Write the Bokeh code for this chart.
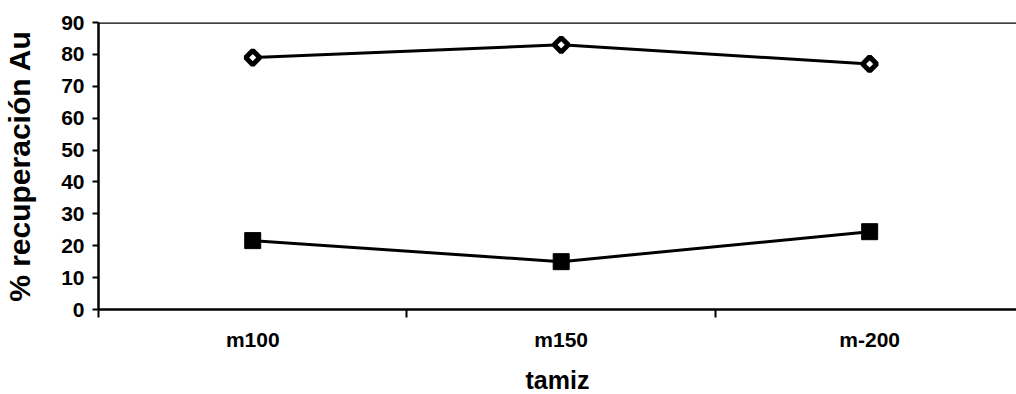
import numpy as np
from bokeh.plotting import figure
from bokeh.models import Range1d, FixedTicker, Span
from bokeh.embed import file_html
from bokeh.resources import INLINE

# Sieve fractions and gold recovery (%) for the two products
tamiz = ["m100", "m150", "m-200"]
recuperacion_a = [79, 83, 77]      # diamond series
recuperacion_b = [21.6, 15.0, 24.4]  # square series
y_ticks = [0, 10, 20, 30, 40, 50, 60, 70, 80, 90]

FONT = "Liberation Sans"

# categories sit at the centre of each unit slot on a numeric axis
x_pos = [i + 0.5 for i in range(len(tamiz))]

p = figure(
    frame_width=918, frame_height=287,
    x_range=Range1d(0, 2.976), y_range=Range1d(0, 90),
    output_backend="svg", toolbar_location=None,
    min_border_left=98, min_border_right=0,
    min_border_top=22, min_border_bottom=85,
    background_fill_color="white", border_fill_color="white",
)
p.outline_line_color = None
p.xgrid.visible = False
p.ygrid.visible = False

# top edge of the plot area
p.add_layout(Span(location=90, dimension="width", line_color="black", line_width=2.5))

# series lines and markers
p.line(x_pos, recuperacion_a, line_color="black", line_width=3)
p.scatter(x_pos, recuperacion_a, marker="square", angle=np.pi / 4, size=10,
          fill_color="white", line_color="black", line_width=5)
p.line(x_pos, recuperacion_b, line_color="black", line_width=3)
p.scatter(x_pos, recuperacion_b, marker="square", size=16,
          fill_color="black", line_color="black", line_width=1)

# y axis
ya = p.yaxis[0]
ya.ticker = FixedTicker(ticks=y_ticks, minor_ticks=[])
ya.axis_line_width = 2.5
ya.major_tick_line_width = 2
ya.major_tick_out = 6
ya.major_tick_in = 0
ya.major_label_standoff = 8
ya.major_label_text_font = FONT
ya.major_label_text_font_style = "bold"
ya.major_label_text_font_size = "21px"
ya.major_label_text_color = "black"
ya.axis_label = "% recuperación Au"
ya.axis_label_text_font = FONT
ya.axis_label_text_font_style = "bold"
ya.axis_label_text_font_size = "30px"
ya.axis_label_text_color = "black"
ya.axis_label_standoff = 22

# x axis: labels at slot centres, tick marks at slot boundaries
xa = p.xaxis[0]
xa.ticker = FixedTicker(ticks=x_pos, minor_ticks=list(range(len(tamiz))))
xa.major_label_overrides = {x: t for x, t in zip(x_pos, tamiz)}
xa.axis_line_width = 2.5
xa.major_tick_line_color = None
xa.major_tick_out = 6
xa.minor_tick_line_width = 2
xa.minor_tick_line_color = "black"
xa.minor_tick_out = 8
xa.minor_tick_in = 0
xa.major_label_standoff = 10
xa.major_label_text_font = FONT
xa.major_label_text_font_style = "bold"
xa.major_label_text_font_size = "21px"
xa.major_label_text_color = "black"
xa.axis_label = "tamiz"
xa.axis_label_text_font = FONT
xa.axis_label_text_font_style = "bold"
xa.axis_label_text_font_size = "25px"
xa.axis_label_text_color = "black"
xa.axis_label_standoff = 12

open("out.html", "w").write(file_html(p, INLINE))
